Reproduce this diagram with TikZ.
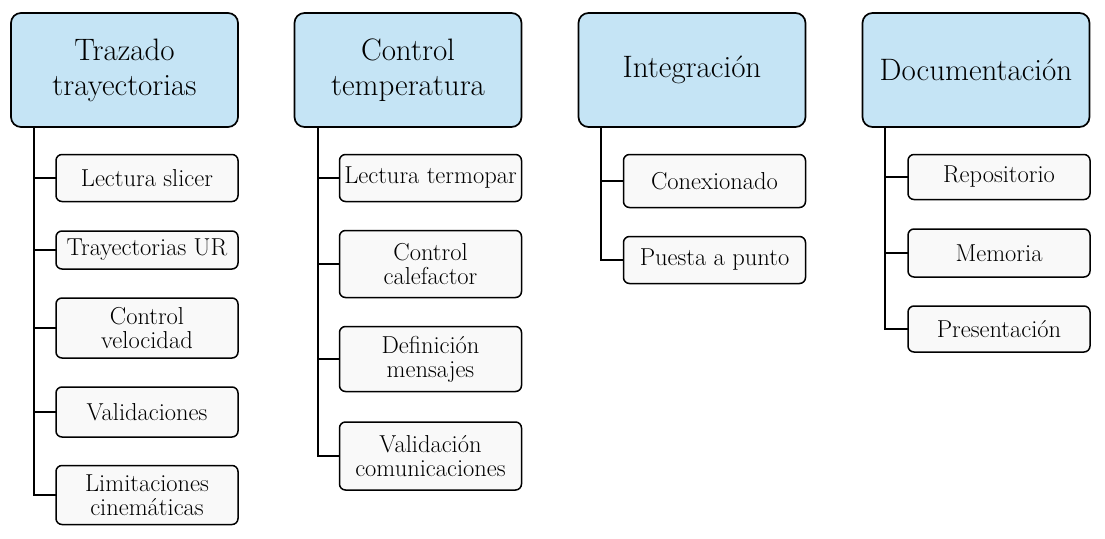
\documentclass[tikz,border=0pt]{standalone}
\usepackage{xcolor}
\usetikzlibrary{calc,positioning}
\definecolor{tblue}{HTML}{C5E4F5}
\definecolor{tpaper}{HTML}{F9F9F9}
\tikzset{
  thead/.style={rounded corners=10pt, draw=black, fill=tblue, line width=1.7pt,
                minimum width=227pt, minimum height=114pt, align=center,
                inner sep=2pt, outer sep=0pt, font=\fontsize{31}{35}\selectfont},
  titem/.style={rounded corners=6pt, draw=black, fill=tpaper, line width=1.5pt,
                minimum width=182pt, align=center, inner sep=1pt, outer sep=0pt,
                font=\fontsize{24.5}{24}\selectfont},
  tline/.style={draw=black, line width=2pt},
}
\begin{document}
\begin{tikzpicture}[x=1pt,y=-1pt]
  \useasboundingbox (0,0) rectangle (1105,538);

  % cabeceras
  \node[thead] (h1) at (124.5,70) {Trazado\\trayectorias};
  \node[thead] (h2) at (408,70)   {Control\\temperatura};
  \node[thead] (h3) at (692,70)   {Integración};
  \node[thead] (h4) at (976,70)   {Documentación};

  % tareas de trazado
  \node[titem, minimum height=47pt] (c11) at (147,178) {Lectura slicer};
  \node[titem, minimum height=38pt] (c12) at (147,250) {Trayectorias UR};
  \node[titem, minimum height=60pt] (c13) at (147,328) {Control\\velocidad};
  \node[titem, minimum height=50pt] (c14) at (147,412) {Validaciones};
  \node[titem, minimum height=59pt] (c15) at (147,495) {Limitaciones\\cinemáticas};

  % tareas de temperatura
  \node[titem, minimum height=47pt] (c21) at (430.5,178) {Lectura termopar};
  \node[titem, minimum height=67pt] (c22) at (430.5,264) {Control\\calefactor};
  \node[titem, minimum height=65pt] (c23) at (430.5,359) {Definición\\mensajes};
  \node[titem, minimum height=68pt] (c24) at (430.5,456) {Validación\\comunicaciones};

  % tareas de integración
  \node[titem, minimum height=53pt] (c31) at (714.5,181) {Conexionado};
  \node[titem, minimum height=47pt] (c32) at (714.5,260) {Puesta a punto};

  % tareas de documentación
  \node[titem, minimum height=45pt] (c41) at (999,177) {Repositorio};
  \node[titem, minimum height=48pt] (c42) at (999,253) {Memoria};
  \node[titem, minimum height=46pt] (c43) at (999,329) {Presentación};

  % troncos
  \coordinate (r1) at ([xshift=23pt]h1.south west);
  \coordinate (r2) at ([xshift=23pt]h2.south west);
  \coordinate (r3) at ([xshift=22.5pt]h3.south west);
  \coordinate (r4) at ([xshift=22.5pt]h4.south west);
  \draw[tline] (r1) |- (c15.west);
  \draw[tline] (r2) |- (c24.west);
  \draw[tline] (r3) |- (c32.west);
  \draw[tline] (r4) |- (c43.west);

  % ramas
  \foreach \c in {c11,c12,c13,c14}
    \draw[tline] (\c.west) -- (\c.west -| r1);
  \foreach \c in {c21,c22,c23}
    \draw[tline] (\c.west) -- (\c.west -| r2);
  \draw[tline] (c31.west) -- (c31.west -| r3);
  \foreach \c in {c41,c42}
    \draw[tline] (\c.west) -- (\c.west -| r4);

\end{tikzpicture}
\end{document}
